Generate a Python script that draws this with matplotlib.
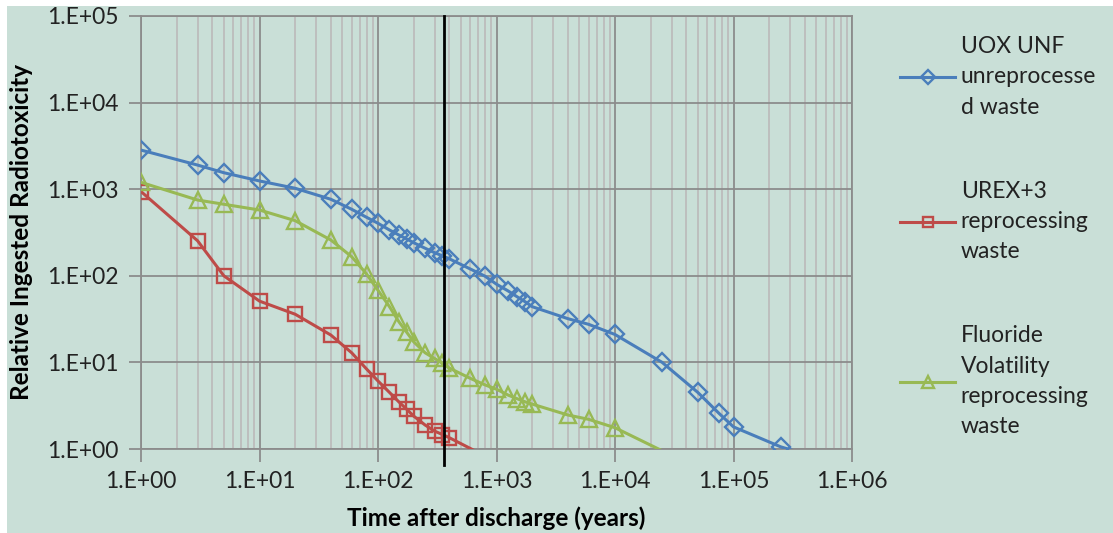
import math
import matplotlib.pyplot as plt
from matplotlib.patches import Rectangle
from matplotlib.ticker import LogLocator

# years after discharge
years = [1, 3, 5, 10, 20, 40, 60, 80, 100, 125, 150, 175, 200, 250, 300, 350, 400,
         600, 800, 1000, 1250, 1500, 1750, 2000, 4000, 6000, 10000]

uox_years = years + [25000, 50000, 75000, 100000, 250000, 1000000]
uox = [2830, 1900, 1550, 1245, 1025, 765, 586, 474, 404, 338, 296, 266, 241, 208, 185, 170, 157,
       120, 99, 80, 67, 57, 50, 44, 32, 27.5, 21, 10, 4.5, 2.6, 1.8, 1.06, 0.6]

urex_years = years[:17] + [1000]
urex = [940, 254, 100, 51, 36, 20.7, 12.9, 8.4, 6.1, 4.5, 3.5, 2.87, 2.4, 1.89, 1.61, 1.47, 1.35, 0.71]

fv_years = years + [50000]
fv = [1200, 750, 670, 575, 433, 259, 166, 105, 68, 44, 29.5, 22.2, 17.3, 12.9, 11.1, 9.8, 8.6,
      6.55, 5.5, 4.9, 4.2, 3.8, 3.5, 3.3, 2.47, 2.2, 1.76, 0.6]

labels = ['UOX UNF\nunreprocesse\nd waste',
          'UREX+3\nreprocessing\nwaste',
          'Fluoride\nVolatility\nreprocessing\nwaste']
marker_line = 360

bg = '#c9dfd7'
plt.rcParams['font.family'] = ['Lato', 'DejaVu Sans']


def sci(v, pos):
    return '1.E+%02d' % round(math.log10(v))


fig = plt.figure(figsize=(11.13, 5.33), dpi=100, facecolor='white')
fig.patches.append(Rectangle((7 / 1113, 0), 1, 1 - 6 / 533, transform=fig.transFigure,
                             facecolor=bg, edgecolor='none', zorder=-10))
ax = fig.add_axes([141 / 1113, 1 - 449 / 533, 711 / 1113, 433 / 533])
ax.set_facecolor(bg)

ax.set_xscale('log')
ax.set_yscale('log')
ax.set_xlim(1, 1e6)
ax.set_ylim(1, 1e5)

ax.plot(uox_years, uox, color='#4a7ebb', lw=2.2, marker='D', ms=9, mfc='none', mew=1.7,
        label=labels[0], zorder=3)
ax.plot(urex_years, urex, color='#be4b48', lw=2.2, marker='s', ms=10.5, mfc='none', mew=1.7,
        label=labels[1], zorder=3)
ax.plot(fv_years, fv, color='#98b954', lw=2.2, marker='^', ms=11.5, mfc='none', mew=1.7,
        label=labels[2], zorder=3)

ax.axvline(marker_line, ymin=-0.037, ymax=1, color='black', lw=2, clip_on=False, zorder=4)

ax.xaxis.set_major_locator(LogLocator(base=10, numticks=10))
ax.yaxis.set_major_locator(LogLocator(base=10, numticks=10))
ax.xaxis.set_minor_locator(LogLocator(base=10, subs=range(2, 10), numticks=20))
ax.xaxis.set_major_formatter(plt.FuncFormatter(sci))
ax.yaxis.set_major_formatter(plt.FuncFormatter(sci))
ax.xaxis.set_minor_formatter(plt.NullFormatter())
ax.yaxis.set_minor_formatter(plt.NullFormatter())

ax.grid(which='major', color='#8c8c8c', lw=1.3)
ax.grid(which='minor', axis='x', color='#bcbcbc', lw=1.3)
ax.set_axisbelow(True)
for s in ax.spines.values():
    s.set_color('#8c8c8c')
    s.set_linewidth(1.3)
ax.tick_params(which='major', length=9, color='#8c8c8c', width=1.3, labelsize=16.5,
               labelcolor='#222222', pad=7)
ax.tick_params(which='minor', length=0)

ax.set_xlabel('Time after discharge (years)', fontsize=17.5, fontweight='bold', labelpad=10)
ax.set_ylabel('Relative Ingested Radiotoxicity', fontsize=17.5, fontweight='bold', labelpad=10)

leg = ax.legend(loc='upper left', bbox_to_anchor=(900 / 1113, 1 - 36 / 533),
                bbox_transform=fig.transFigure, frameon=False, fontsize=16.5,
                handlelength=2.4, handletextpad=0.25, labelspacing=2.75, markerscale=0.75,
                borderaxespad=0, borderpad=0)
for t in leg.get_texts():
    t.set_linespacing(1.55)
    t.set_color('#222222')

fig.savefig('out.png', dpi=100, facecolor='white')
